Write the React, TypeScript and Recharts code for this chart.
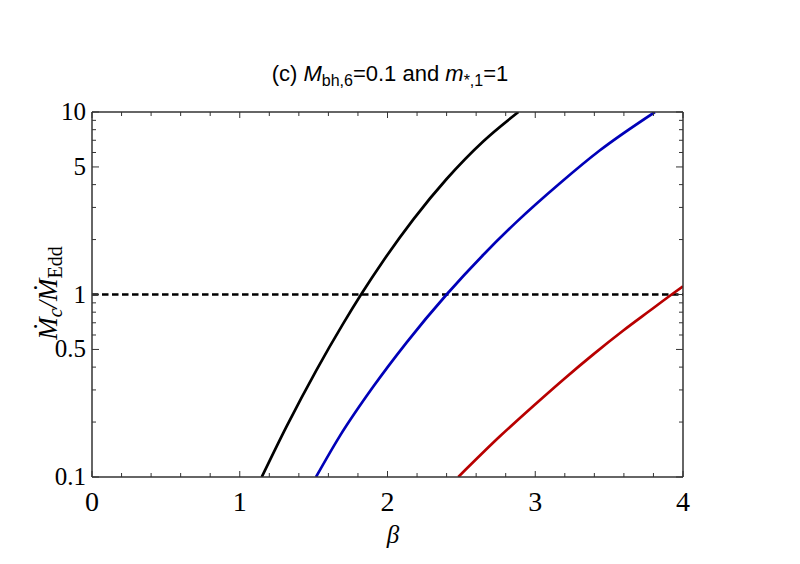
import React from 'react';
import { LineChart, Line, XAxis, YAxis, ReferenceLine } from 'recharts';

const X_TICKS = [0, 0.2, 0.4, 0.6, 0.8, 1, 1.2, 1.4, 1.6, 1.8, 2, 2.2, 2.4, 2.6, 2.8, 3, 3.2, 3.4, 3.6, 3.8, 4];
const Y_TICKS = [0.1, 0.2, 0.3, 0.4, 0.5, 0.6, 0.7, 0.8, 0.9, 1, 2, 3, 4, 5, 6, 7, 8, 9, 10];
const Y_MAJOR = [0.1, 0.5, 1, 5, 10];
const Y_LABELS: Record<string, string> = { '0.1': '0.1', '0.5': '0.5', '1': '1', '5': '5', '10': '10' };

const blackBeta = [1.149, 1.318, 1.521, 1.701, 1.821, 1.972, 2.175, 2.4, 2.649, 2.886];
const blackVal = [0.1, 0.19, 0.388, 0.695, 1.0, 1.531, 2.582, 4.295, 6.918, 10];
const blueBeta = [1.516, 1.678, 1.904, 2.13, 2.4, 2.649, 2.874, 3.167, 3.438, 3.81];
const blueVal = [0.1, 0.168, 0.313, 0.547, 1.0, 1.652, 2.5, 4.07, 6.17, 10];
const redBeta = [2.479, 2.761, 2.987, 3.201, 3.393, 3.596, 3.777, 3.923, 4.0];
const redVal = [0.1, 0.167, 0.245, 0.348, 0.47, 0.635, 0.817, 1.0, 1.109];
const THRESHOLD = 1;

const zip = (b: number[], v: number[]) => b.map((beta, i) => ({ beta, v: v[i] }));
const blackData = zip(blackBeta, blackVal);
const blueData = zip(blueBeta, blueVal);
const redData = zip(redBeta, redVal);

const AX = '#333';
const SERIF = '"Liberation Serif", "Times New Roman", "DejaVu Serif", serif';
const SANS = '"Liberation Sans", Arial, sans-serif';

const isMajorX = (v: number) => Math.abs(v - Math.round(v)) < 1e-9;
const isMajorY = (v: number) => Y_MAJOR.some((m) => Math.abs(m - v) < 1e-9);

const LeftTick = (p: any) => {
  const { x, y, payload } = p;
  const v = payload.value;
  const major = isMajorY(v);
  return (
    <g>
      <line x1={x} y1={y} x2={x + (major ? 7 : 4)} y2={y} stroke={AX} strokeWidth={1} />
      {major && (
        <text x={x - 6} y={y} dy={8} textAnchor="end" fontFamily={SERIF} fontSize={25} fill="#000">
          {Y_LABELS[String(v)]}
        </text>
      )}
    </g>
  );
};
const RightTick = (p: any) => {
  const { x, y, payload } = p;
  const major = isMajorY(payload.value);
  return <line x1={x} y1={y} x2={x - (major ? 7 : 4)} y2={y} stroke={AX} strokeWidth={1} />;
};
const BottomTick = (p: any) => {
  const { x, y, payload } = p;
  const v = payload.value;
  const major = isMajorX(v);
  return (
    <g>
      <line x1={x} y1={y} x2={x} y2={y - (major ? 6 : 4)} stroke={AX} strokeWidth={1} />
      {major && (
        <text x={x} y={y + 34} textAnchor="middle" fontFamily={SERIF} fontSize={28} fill="#000">
          {String(v)}
        </text>
      )}
    </g>
  );
};
const TopTick = (p: any) => {
  const { x, y, payload } = p;
  const major = isMajorX(payload.value);
  return <line x1={x} y1={y} x2={x} y2={y + (major ? 6 : 4)} stroke={AX} strokeWidth={1} />;
};

const TitleLabel = () => (
  <text x={390} y={81} textAnchor="middle" fontFamily={SANS} fontSize={22} fill="#000">
    <tspan>{'(c) '}</tspan>
    <tspan fontStyle="italic">M</tspan>
    <tspan fontSize={16} dy={5}>bh,6</tspan>
    <tspan dy={-5}>{'=0.1 and '}</tspan>
    <tspan fontStyle="italic">m</tspan>
    <tspan fontSize={16} dy={5}>*,1</tspan>
    <tspan dy={-5}>=1</tspan>
  </text>
);

const XLabel = () => (
  <text x={393} y={543} textAnchor="middle" fontFamily={SERIF} fontStyle="italic" fontSize={25} fill="#000">
    β
  </text>
);

const YLabel = () => (
  <text x={57} y={293} transform="rotate(-90 57 293)" textAnchor="middle" fontFamily={SERIF} fontSize={27} fill="#000">
    <tspan fontStyle="italic">Ṁ</tspan>
    <tspan fontStyle="italic" fontSize={20} dy={5}>c</tspan>
    <tspan dy={-5} fontStyle="italic">/</tspan>
    <tspan fontStyle="italic">Ṁ</tspan>
    <tspan fontSize={20} dy={5}>Edd</tspan>
  </text>
);

export default function App() {
  return (
    <div style={{ position: 'absolute', left: 0, top: 0, background: '#fff' }}>
      <LineChart width={800} height={564} margin={{ top: 102, right: 107, bottom: 47, left: 32 }}>
        <XAxis
          xAxisId="b"
          dataKey="beta"
          type="number"
          domain={[0, 4]}
          ticks={X_TICKS}
          interval={0}
          allowDataOverflow
          height={40}
          tickSize={0}
          tickMargin={0}
          tickLine={false}
          tick={<BottomTick />}
          axisLine={{ stroke: AX, strokeWidth: 1.5 }}
          label={<XLabel />}
        />
        <XAxis
          xAxisId="t"
          orientation="top"
          type="number"
          dataKey="beta"
          domain={[0, 4]}
          ticks={X_TICKS}
          interval={0}
          allowDataOverflow
          height={10}
          tickSize={0}
          tickMargin={0}
          tickLine={false}
          tick={<TopTick />}
          axisLine={{ stroke: AX, strokeWidth: 1.5 }}
          label={<TitleLabel />}
        />
        <YAxis
          yAxisId="l"
          scale="log"
          type="number"
          domain={[0.1, 10]}
          ticks={Y_TICKS}
          interval={0}
          allowDataOverflow
          width={60}
          tickSize={0}
          tickMargin={0}
          tickLine={false}
          tick={<LeftTick />}
          axisLine={{ stroke: AX, strokeWidth: 1.5 }}
          label={<YLabel />}
        />
        <YAxis
          yAxisId="r"
          orientation="right"
          scale="log"
          type="number"
          domain={[0.1, 10]}
          ticks={Y_TICKS}
          interval={0}
          allowDataOverflow
          width={10}
          tickSize={0}
          tickMargin={0}
          tickLine={false}
          tick={<RightTick />}
          axisLine={{ stroke: AX, strokeWidth: 1.5 }}
        />
        <ReferenceLine xAxisId="b" yAxisId="l" y={THRESHOLD} stroke="#000" strokeWidth={2.6} strokeDasharray="6.5 3.5" />
        <Line data={blackData} xAxisId="b" yAxisId="l" dataKey="v" type="monotone" stroke="#000" strokeWidth={2.7} dot={false} isAnimationActive={false} />
        <Line data={blueData} xAxisId="b" yAxisId="l" dataKey="v" type="monotone" stroke="#0000b8" strokeWidth={2.7} dot={false} isAnimationActive={false} />
        <Line data={redData} xAxisId="b" yAxisId="l" dataKey="v" type="monotone" stroke="#b80000" strokeWidth={2.7} dot={false} isAnimationActive={false} />
      </LineChart>
    </div>
  );
}
